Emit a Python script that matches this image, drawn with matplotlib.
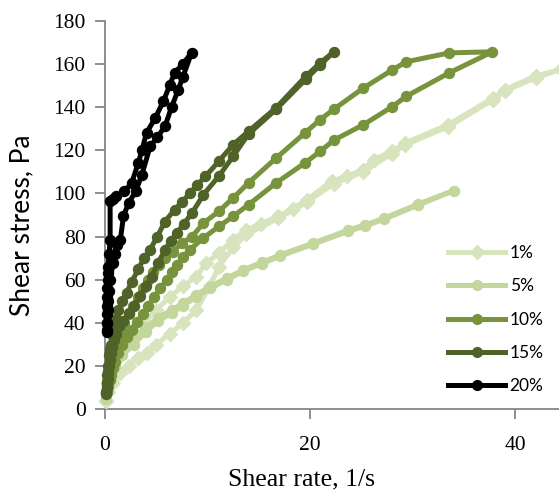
import matplotlib
matplotlib.use("Agg")
import matplotlib.pyplot as plt
from matplotlib.lines import Line2D

# Flow curves (up sweep followed by down sweep) for each concentration
labels = ["1%", "5%", "10%", "15%", "20%"]
colors = ["#D7E4BD", "#C3D69B", "#77933C", "#4F6228", "#000000"]
markers = ["D", "o", "o", "o", "o"]

rate_1 = [0.05, 0.3, 0.7, 1.3, 2.0, 2.8, 3.8, 5.0, 6.3, 7.6, 8.9, 9.9, 11.1, 12.5, 13.8,
          15.2, 16.9, 18.3, 19.7, 22.1, 23.6, 25.2, 26.2, 28.0, 29.3, 33.5, 37.9, 39.0,
          42.0, 44.5,
          42.0, 39.0, 37.9, 33.5, 29.3, 28.0, 25.2, 22.3, 19.7, 16.9, 13.8, 12.5,
          11.1, 10.2, 8.9, 7.6, 6.3, 5.0, 4.1, 3.2, 2.3, 1.5, 0.8, 0.3, 0.05]
stress_1 = [4, 12, 18, 24, 30, 35, 40, 46, 52, 57, 61.5, 67.8, 72.4, 78.6, 83.2,
            86, 89.4, 93, 97.1, 105.6, 108, 111, 115.7, 119.5, 123.4, 131.9, 144.3, 148.1,
            154.3, 157.5,
            153.5, 147.5, 143.5, 131, 122.5, 118.5, 110, 104.5, 96, 88.5, 81, 75,
            66, 57, 46, 40, 35, 30, 26, 24, 20, 17, 12, 8, 4]

rate_5 = [0.05, 0.2, 0.5, 1.0, 1.7, 2.8, 4.0, 5.2, 6.5, 7.6, 8.9, 10.2, 11.9, 13.5, 15.3,
          17.1, 20.3, 23.7, 25.4, 27.2, 30.5, 34.0,
          30.5, 27.2, 25.4, 23.7, 20.3, 17.1, 15.3, 13.5, 11.9, 10.2, 8.9, 7.6, 6.5,
          5.2, 4.0, 2.8, 1.7, 1.0, 0.5, 0.2, 0.05]
stress_5 = [5, 11, 17, 23, 28, 33, 38, 42.5, 46, 49.2, 53.1, 56.9, 60.8, 64.7, 68.1,
            71.6, 77, 83, 85.5, 88.5, 95, 101.3,
            94.5, 88, 85, 82.4, 76.5, 71, 67.5, 64, 60, 56, 52, 48, 44.5,
            41, 36, 30, 25, 20, 14, 9, 5]

rate_10 = [0.1, 0.15, 0.2, 0.28, 0.35, 0.45, 0.6, 0.8, 1.0, 1.3, 1.6, 1.9, 2.3, 2.7, 3.2,
           3.7, 4.2, 4.7, 5.3, 5.9, 6.6, 7.5, 8.5, 9.6, 11.1, 12.5,
           14.0, 16.7, 19.5, 21.0, 22.3, 25.2, 28.0, 29.4, 33.6, 37.8,
           33.6, 29.4, 28.0, 25.2, 22.3, 21.0, 19.5, 16.7, 14.0, 12.5, 11.1, 9.6,
           8.3, 7.6, 7.0, 6.5, 6.0, 5.4, 4.8, 4.2, 3.7, 3.1, 2.6, 2.1, 1.7, 1.3, 1.0,
           0.8, 0.6, 0.45, 0.3, 0.2, 0.15]
stress_10 = [8, 11, 13, 16, 18, 21, 24, 27, 30, 34, 37, 40, 44, 48, 52,
             56, 60, 63.5, 67, 70, 73, 77, 80, 86.3, 91.7, 97.9,
             104.9, 116.4, 128, 134.2, 138.9, 148.8, 157.1, 161, 165.1, 165.6,
             155.9, 145, 140.1, 131.8, 124.6, 119.5, 114.1, 104.9, 94.8, 89.4, 84.7, 79.4,
             74, 70.5, 67, 63.5, 60, 56, 52, 48, 44, 40.5, 37, 33.5, 30, 26, 22,
             19, 16, 13.5, 11, 9, 8]

rate_15 = [0.1, 0.15, 0.2, 0.25, 0.3, 0.4, 0.5, 0.6, 0.75, 0.9, 1.1, 1.3, 1.7, 2.1, 2.6,
           3.25, 3.8, 4.4, 5.1, 5.85, 6.8, 7.5, 8.3, 9.0, 9.8,
           11.1, 12.5, 14.0, 16.7, 19.6, 21.0, 22.3,
           21.0, 19.6, 16.7, 14.0, 12.5, 11.1, 9.6, 8.5, 7.7, 7.0, 6.4, 5.85, 5.2, 4.55,
           4.0, 3.4, 2.8, 2.3, 1.8, 1.4, 1.1, 0.9, 0.7, 0.6, 0.5, 0.4, 0.3, 0.25, 0.2,
           0.15, 0.1]
stress_15 = [8, 12, 16, 18, 20, 25, 28, 30, 34, 37, 42, 46, 50, 54, 59,
             65, 70, 74, 80, 87, 92.5, 96, 100.2, 104, 107.9,
             114.9, 122.6, 128.8, 139.7, 154.3, 160.5, 165.5,
             159.5, 153, 139, 127.5, 117.2, 108, 99.4, 91, 86, 81.7, 78, 73.9, 68, 61.5,
             57, 52.3, 48, 44.6, 41, 38.4, 35, 32, 29, 26, 23, 20, 17, 14, 12,
             10, 7]

rate_20 = [0.15, 0.16, 0.18, 0.2, 0.22, 0.24, 0.26, 0.28, 0.3, 0.4, 0.5, 0.5, 0.8, 1.1,
           1.9, 2.6, 3.25, 3.6, 4.05, 4.9, 5.7, 6.3, 6.8, 7.6, 8.45,
           7.6, 7.15, 6.5, 5.85, 5.1, 4.4, 3.6, 3.0, 2.3, 1.8, 1.5, 1.2, 1.0, 0.8,
           0.5, 0.4, 0.3, 0.25, 0.2, 0.17]
stress_20 = [36, 40, 44, 48, 52, 56, 60, 63, 66, 72, 78.6, 96.3, 97.5, 98.7,
             101, 104.9, 114.1, 120, 128, 135, 142.7, 150, 155.9, 160, 165.2,
             154, 148.1, 140, 131.1, 126, 121.8, 108.7, 101, 95.6, 89.4, 78.6, 76, 72, 68,
             60, 55, 50, 46, 40, 37]

rates = [rate_1, rate_5, rate_10, rate_15, rate_20]
stresses = [stress_1, stress_5, stress_10, stress_15, stress_20]

x_ticks = [0, 20, 40]
y_ticks = [0, 20, 40, 60, 80, 100, 120, 140, 160, 180]

W, H = 559, 491
fig = plt.figure(figsize=(W / 100, H / 100), dpi=100)
ax = fig.add_axes([105 / W, (H - 409.4) / H, (W - 105) / W, (409.4 - 20.7) / H])

for x, y, c, m, lab in zip(rates, stresses, colors, markers, labels):
    ms = 7.5 if m == "D" else 7.2
    ax.plot(x, y, color=c, lw=3.6, marker=m, ms=ms, mec=c, mfc=c,
            solid_joinstyle="round", label=lab, clip_on=False, zorder=3)

ax.set_xlim(0, (W - 105) / 10.25)
ax.set_ylim(0, 180)
ax.set_xticks(x_ticks)
ax.set_yticks(y_ticks)

axis_grey = "#868686"
for side in ("top", "right"):
    ax.spines[side].set_visible(False)
for side in ("left", "bottom"):
    ax.spines[side].set_color(axis_grey)
    ax.spines[side].set_linewidth(1.3)
    ax.spines[side].set_zorder(1)
ax.tick_params(axis="both", direction="out", length=7, width=1.3, color=axis_grey)
ax.tick_params(axis="y", pad=7)
ax.tick_params(axis="x", pad=12)
for t in ax.get_xticklabels() + ax.get_yticklabels():
    t.set_fontfamily("Liberation Serif")
    t.set_fontsize(15.5)
    t.set_color("#000000")

fig.text(22 / W, 1 - 225 / H, "Shear stress, Pa", rotation=90, ha="center", va="center",
         fontsize=19, family="Lato")
fig.text(301 / W, 1 - 479 / H, "Shear rate, 1/s", ha="center", va="center",
         fontsize=18.5, family="Liberation Serif")

handles = [Line2D([], [], color=c, lw=3.6, marker=m, ms=7, mec=c, mfc=c)
           for c, m in zip(colors, markers)]
leg = ax.legend(handles, labels, loc="upper left",
                bbox_to_anchor=(448 / W, 1 - 245 / H), bbox_transform=fig.transFigure,
                frameon=False, prop={"family": "Lato", "size": 12.5},
                handlelength=3.3, handletextpad=0.25, labelspacing=1.0, borderpad=0,
                borderaxespad=0)

fig.savefig("out.png", dpi=100)
